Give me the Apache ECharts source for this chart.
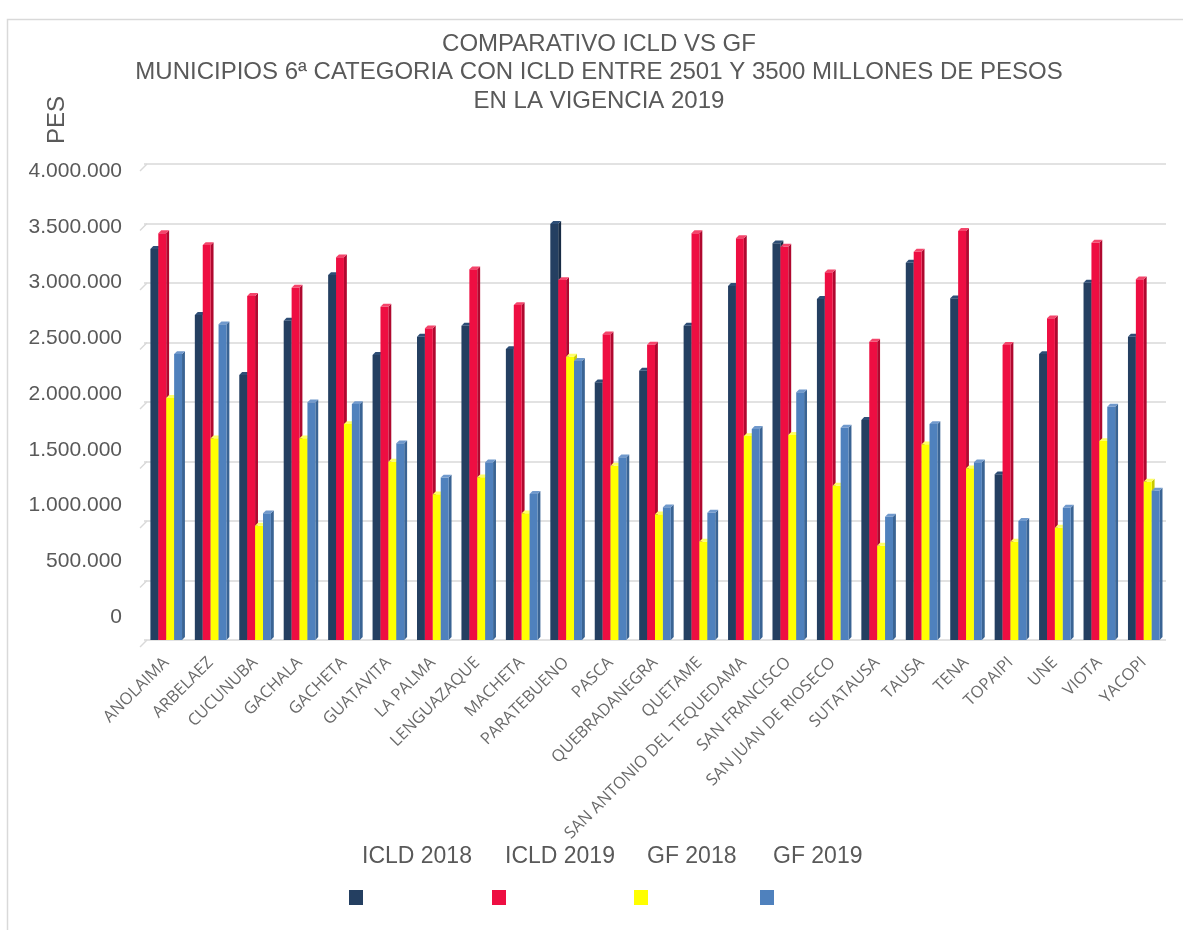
<!DOCTYPE html>
<html>
<head>
<meta charset="utf-8">
<title>Comparativo ICLD vs GF</title>
<script src="https://cdn.jsdelivr.net/npm/echarts@6/dist/echarts.min.js"></script>
<style>
  html, body { margin: 0; padding: 0; background: #ffffff; }
  #chart { width: 1183px; height: 930px; }
</style>
</head>
<body>
<div id="chart"></div>
<script>
// Municipios de 6ª categoría (ICLD entre 2.501 y 3.500 millones)
const municipios = [
  'ANOLAIMA', 'ARBELAEZ', 'CUCUNUBA', 'GACHALA', 'GACHETA', 'GUATAVITA',
  'LA PALMA', 'LENGUAZAQUE', 'MACHETA', 'PARATEBUENO', 'PASCA',
  'QUEBRADANEGRA', 'QUETAME', 'SAN ANTONIO DEL TEQUEDAMA', 'SAN FRANCISCO',
  'SAN JUAN DE RIOSECO', 'SUTATAUSA', 'TAUSA', 'TENA', 'TOPAIPI', 'UNE',
  'VIOTA', 'YACOPI'
];

// Valores en pesos
const icld2018 = [
  3286000, 2731000, 2227000, 2683000, 3067000, 2395000, 2549000, 2641000,
  2445000, 3496000, 2165000, 2263000, 2641000, 2975000, 3333000, 2866000,
  1849000, 3171000, 2871000, 1392000, 2403000, 3003000, 2549000
];
const icld2019 = [
  3418000, 3319000, 2891000, 2961000, 3216000, 2801000, 2619000, 3115000,
  2815000, 3025000, 2569000, 2482000, 3418000, 3376000, 3305000, 3090000,
  2507000, 3263000, 3437000, 2479000, 2703000, 3339000, 3031000
];
const gf2018 = [
  2034000, 1695000, 961000, 1695000, 1815000, 1498000, 1224000, 1367000,
  1065000, 2381000, 1465000, 1056000, 827000, 1714000, 1723000, 1297000,
  793000, 1644000, 1443000, 827000, 944000, 1672000, 1331000
];
const gf2019 = [
  2403000, 2653000, 1065000, 1997000, 1983000, 1653000, 1365000, 1493000,
  1227000, 2345000, 1535000, 1115000, 1070000, 1773000, 2081000, 1784000,
  1036000, 1815000, 1493000, 1000000, 1112000, 1961000, 1255000
];

const seriesNames = ['ICLD 2018', 'ICLD 2019', 'GF 2018', 'GF 2019'];
const seriesValues = [icld2018, icld2019, gf2018, gf2019];

// Eje de valores
const yMin = 0;
const yMax = 4000000;
const yStep = 500000;
const yTicks = [0, 500000, 1000000, 1500000, 2000000, 2500000, 3000000, 3500000, 4000000];

const titleLines = [
  'COMPARATIVO ICLD VS GF',
  'MUNICIPIOS 6ª CATEGORIA CON ICLD ENTRE 2501 Y 3500 MILLONES DE PESOS',
  'EN LA VIGENCIA 2019'
];
const yAxisTitle = 'PES';

// Colores: cara frontal, cara lateral, tapa superior
const palette = [
  { front: '#243F61', side: '#182C45', top: '#2E4E76' },
  { front: '#EE0E42', side: '#B0082F', top: '#F4456B' },
  { front: '#FFFF00', side: '#C9C900', top: '#FFFF66' },
  { front: '#4F81BD', side: '#3A6494', top: '#7099CC' }
];

const TEXT = '#595959';
const FONT = '"Liberation Sans", Arial, sans-serif';

function fmtMiles(v) {
  return String(Math.round(v)).replace(/\B(?=(\d{3})+(?!\d))/g, '.');
}

// Barra con efecto 3D: cara frontal + lateral + tapa, posicionada en el grupo
function barSeries(k) {
  const col = palette[k];
  return {
    type: 'custom',
    name: seriesNames[k],
    xAxisIndex: 0,
    yAxisIndex: 0,
    itemStyle: { color: col.front },
    encode: { x: 0, y: 1 },
    data: seriesValues[k].map((v, i) => [i, v]),
    renderItem: function (params, api) {
      const i = api.value(0);
      const v = api.value(1);
      const base = api.coord([i, yMin]);
      const top = api.coord([i, v]);
      const band = api.size([1, 0])[0];
      const w = band * 0.178;
      const d = Math.max(2, band * 0.065);
      const x0 = base[0] - 2 * w + k * w;
      const yb = base[1];
      const yt = top[1];
      return {
        type: 'group',
        children: [
          {
            type: 'polygon',
            shape: { points: [[x0 + w, yt], [x0 + w + d, yt - d], [x0 + w + d, yb - d], [x0 + w, yb]] },
            style: { fill: col.side }
          },
          {
            type: 'rect',
            shape: { x: x0, y: yt, width: w, height: yb - yt },
            style: { fill: col.front }
          },
          {
            type: 'polygon',
            shape: { points: [[x0, yt], [x0 + d, yt - d], [x0 + w + d, yt - d], [x0 + w, yt]] },
            style: { fill: col.top }
          }
        ]
      };
    }
  };
}

// Aristas de la pared izquierda en cada línea de división
const wallEdges = {
  type: 'custom',
  name: 'wall',
  silent: true,
  xAxisIndex: 0,
  yAxisIndex: 0,
  data: yTicks.map(v => [0, v]),
  encode: { x: 0, y: 1 },
  renderItem: function (params, api) {
    const p = api.coord([0, api.value(1)]);
    const band = api.size([1, 0])[0];
    const left = p[0] - band / 2;
    return {
      type: 'line',
      shape: { x1: left + 3, y1: p[1], x2: left - 4, y2: p[1] + 7 },
      style: { stroke: '#D9D9D9', lineWidth: 1.5 }
    };
  }
};

const legendLeft = [349, 492, 634, 760];

const chart = echarts.init(document.getElementById('chart'), null, { renderer: 'canvas' });

chart.setOption({
  animation: false,
  backgroundColor: '#ffffff',
  title: {
    text: titleLines.join('\n'),
    left: 599,
    top: 25,
    textAlign: 'center',
    padding: [5, 0, 5, 0],
    textStyle: {
      fontFamily: FONT,
      fontSize: 24,
      lineHeight: 28.5,
      fontWeight: 'normal',
      color: TEXT
    }
  },
  // Leyenda: nombre encima del recuadro de color
  legend: seriesNames.map((n, k) => ({
    data: [n],
    left: legendLeft[k],
    top: 845,
    padding: 0,
    icon: 'rect',
    itemWidth: 14,
    itemHeight: 15,
    selectedMode: false,
    formatter: '{t|{name}}',
    textStyle: {
      fontFamily: FONT,
      fontSize: 23,
      color: TEXT,
      rich: {
        t: {
          fontFamily: FONT,
          fontSize: 23,
          lineHeight: 28,
          color: TEXT,
          padding: [0, 0, 82, -6]
        }
      }
    }
  })),
  graphic: [
    {
      type: 'rect',
      silent: true,
      shape: { x: 7.5, y: 19.5, width: 1200, height: 1000 },
      style: { fill: 'none', stroke: '#D9D9D9', lineWidth: 1.5 }
    },
    {
      type: 'text',
      silent: true,
      x: 57,
      y: 120,
      rotation: Math.PI / 2,
      style: {
        text: yAxisTitle,
        fontFamily: FONT,
        fontSize: 24,
        fill: TEXT,
        align: 'center',
        verticalAlign: 'middle'
      }
    }
  ],
  grid: [
    { left: 144, right: 17, top: 164, bottom: 290 },
    { left: 130, right: 17, top: 171, height: 446 }
  ],
  xAxis: [
    {
      gridIndex: 0,
      type: 'category',
      data: municipios,
      boundaryGap: true,
      axisLine: { show: false },
      axisTick: { show: false },
      axisLabel: {
        interval: 0,
        rotate: 45,
        margin: 20,
        fontFamily: '"Open Sans", sans-serif',
        fontSize: 16.5,
        color: '#6A6A6A'
      }
    },
    { gridIndex: 1, type: 'value', show: false }
  ],
  yAxis: [
    {
      gridIndex: 0,
      type: 'value',
      min: yMin,
      max: yMax,
      interval: yStep,
      axisLine: { show: false },
      axisTick: { show: false },
      axisLabel: { show: false },
      splitLine: { lineStyle: { color: '#D9D9D9', width: 1.5 } }
    },
    {
      gridIndex: 1,
      type: 'value',
      min: yMin,
      max: yMax,
      interval: yStep,
      axisLine: { show: false },
      axisTick: { show: false },
      splitLine: { show: false },
      axisLabel: {
        margin: 8,
        fontFamily: FONT,
        fontSize: 21,
        color: TEXT,
        formatter: fmtMiles
      }
    }
  ],
  series: [wallEdges, barSeries(0), barSeries(1), barSeries(2), barSeries(3)]
});
</script>
</body>
</html>
